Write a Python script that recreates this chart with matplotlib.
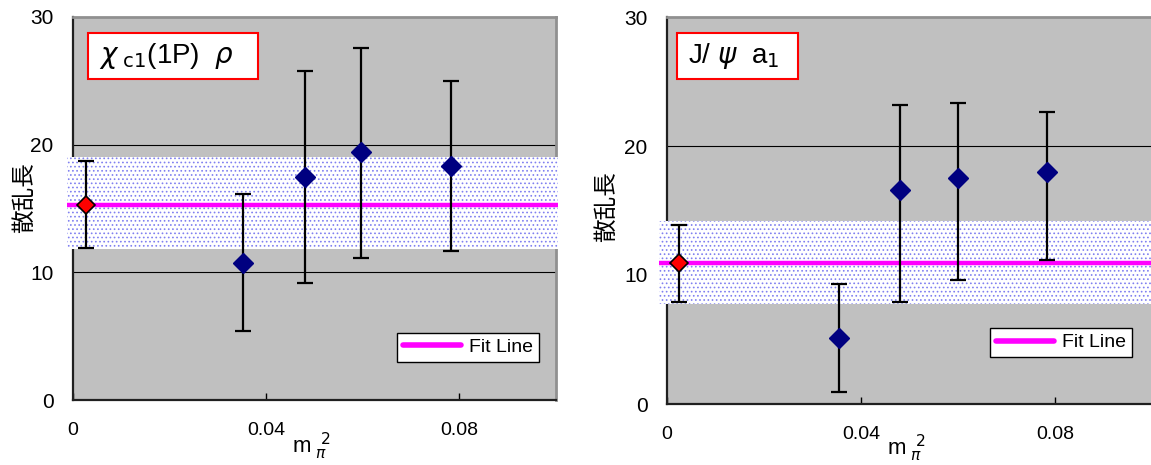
import matplotlib
matplotlib.use("Agg")
import matplotlib.pyplot as plt
from matplotlib.patches import Rectangle

plt.rcParams['font.family'] = ['Liberation Sans', 'Noto Sans CJK JP', 'DejaVu Sans']
plt.rcParams['mathtext.fontset'] = 'dejavusans'
plt.rcParams['hatch.linewidth'] = 0.7

# ---- left panel: chi_c1(1P) rho ----
x_left = [0.0027, 0.0353, 0.048, 0.0597, 0.0783]
y_left = [15.3, 10.7, 17.5, 19.4, 18.3]
err_lo_left = [3.4, 5.3, 8.3, 8.3, 6.6]
err_hi_left = [3.4, 5.4, 8.3, 8.2, 6.7]
fit_left = 15.3
band_left = (11.8, 19.0)

# ---- right panel: J/psi a1 ----
x_right = [0.0025, 0.0355, 0.048, 0.060, 0.0784]
y_right = [10.9, 5.1, 16.6, 17.5, 18.0]
err_lo_right = [3.0, 4.2, 8.7, 7.9, 6.8]
err_hi_right = [3.0, 4.2, 6.6, 5.8, 4.6]
fit_right = 10.9
band_right = (7.75, 14.2)

titles = [r'$\chi_{\ \mathrm{c1}}$(1P)  $\rho$', r'J/ $\psi$  a$_1$']
ylabel = '散乱長'
xticks = [0, 0.04, 0.08]
xtick_labels = ['0', '0.04', '0.08']
yticks = [0, 10, 20, 30]

W, H = 1151, 465
fig = plt.figure(figsize=(W / 100, H / 100), dpi=100)


def px_axes(x0, x1, y_top, y_bot):
    return fig.add_axes([x0 / W, 1 - y_bot / H, (x1 - x0) / W, (y_bot - y_top) / H])


def draw_panel(ax, xs, ys, elo, ehi, fit, band, title, box, leg_anchor, band_x, ylab_xy):
    ax.set_facecolor('#C0C0C0')
    ax.set_xlim(0, 0.1)
    ax.set_ylim(0, 30)
    ax.set_xticks(xticks)
    ax.set_xticklabels(xtick_labels, fontsize=14)
    ax.set_yticks(yticks)
    ax.tick_params(axis='y', labelsize=15, length=0, pad=14)
    ax.tick_params(axis='x', direction='in', length=5, pad=16, width=1)
    for v in [10, 20]:
        ax.axhline(v, color='black', lw=0.8, zorder=1)
    for s in ['left', 'bottom']:
        ax.spines[s].set_color('#202020')
        ax.spines[s].set_linewidth(1.6)
    for s in ['top', 'right']:
        ax.spines[s].set_color('#909090')
        ax.spines[s].set_linewidth(2)

    # shaded error band of the fit
    ax.add_patch(Rectangle((band_x[0], band[0]), band_x[1] - band_x[0], band[1] - band[0],
                           facecolor='white', edgecolor='#8080f0', lw=0, hatch='....',
                           zorder=3, clip_on=False))
    ax.plot(band_x, [fit, fit], color='#FF00FF', lw=3.2, zorder=4, clip_on=False,
            solid_capstyle='butt', label='Fit Line')

    ax.errorbar(xs, ys, yerr=[elo, ehi], fmt='none', ecolor='black', elinewidth=1.6,
                capsize=6, capthick=1.6, zorder=5)
    ax.plot(xs[1:], ys[1:], 'D', color='#000080', ms=10, zorder=6)
    ax.plot(xs[:1], ys[:1], 'D', color='#FF0000', mec='black', mew=1.2, ms=9, zorder=6)

    ax.add_patch(Rectangle((box[0], box[1]), box[2], box[3], transform=ax.transAxes,
                           facecolor='white', edgecolor='#FF0000', lw=1.5, zorder=7))
    ax.text(box[0] + 0.022, box[1] + box[3] / 2, title, transform=ax.transAxes,
            fontsize=20, va='center', ha='left', zorder=8)

    leg = ax.legend(loc='lower left', bbox_to_anchor=leg_anchor, fontsize=14,
                    fancybox=False, framealpha=1, edgecolor='black', handlelength=3.0,
                    borderpad=0.3, handletextpad=0.4, borderaxespad=0)
    leg.get_frame().set_linewidth(1.0)
    for h in leg.legend_handles:
        h.set_solid_capstyle('round')
        h.set_linewidth(4)
    leg.set_zorder(9)

    fig.text(ylab_xy[0] / W, 1 - ylab_xy[1] / H, ylabel, rotation=90, fontsize=17,
             ha='center', va='center', family=['Noto Sans CJK JP'])


ax1 = px_axes(73, 556, 17, 400)
draw_panel(ax1, x_left, y_left, err_lo_left, err_hi_left, fit_left, band_left, titles[0],
           (0.031, 0.838, 0.352, 0.12), (0.671, 0.099), (-0.0012, 0.1004), (25, 198))
fig.text(312 / W, 1 - 446 / H, r'm$_{\ \pi}^{\ \ 2}$', fontsize=16, ha='center', va='center')

ax2 = px_axes(667, 1152, 17, 404)
draw_panel(ax2, x_right, y_right, err_lo_right, err_hi_right, fit_right, band_right, titles[1],
           (0.021, 0.84, 0.25, 0.119), (0.666, 0.121), (-0.0016, 0.1), (607, 207))
fig.text(907 / W, 1 - 448 / H, r'm$_{\ \pi}^{\ \ 2}$', fontsize=16, ha='center', va='center')

fig.savefig('out.png', dpi=100)
